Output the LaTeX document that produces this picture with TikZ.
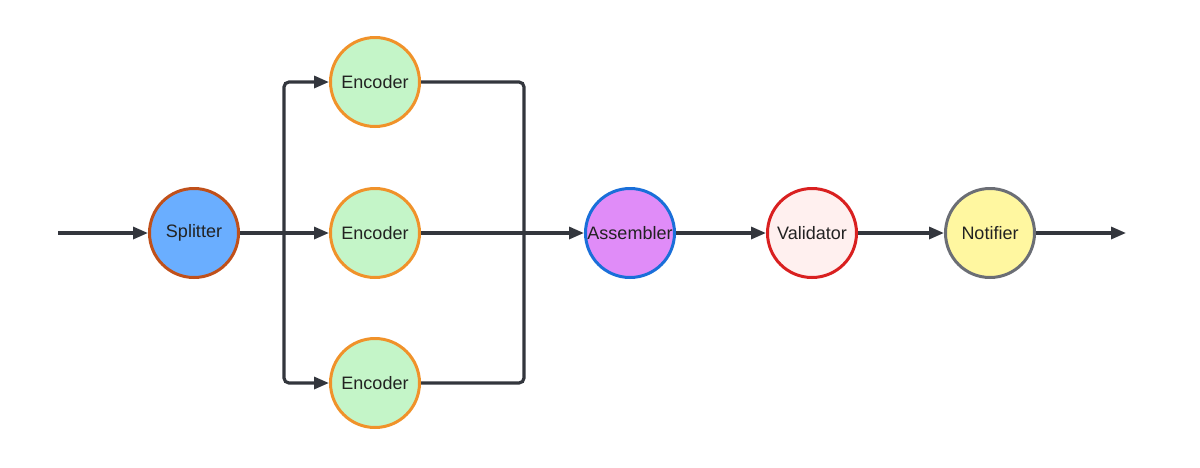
\documentclass[tikz,border=0pt]{standalone}
\usepackage{fontspec}
\setmainfont{Liberation Sans}
\usetikzlibrary{arrows.meta}
\definecolor{lineC}{HTML}{33363D}
\definecolor{txtC}{HTML}{222222}
\definecolor{spFill}{HTML}{6AAEFF}
\definecolor{spDraw}{HTML}{C0501A}
\definecolor{enFill}{HTML}{C4F5C8}
\definecolor{enDraw}{HTML}{F0922A}
\definecolor{asFill}{HTML}{E08CF8}
\definecolor{asDraw}{HTML}{1A6FD9}
\definecolor{vaFill}{HTML}{FFF0EF}
\definecolor{vaDraw}{HTML}{D92020}
\definecolor{noFill}{HTML}{FFF7A0}
\definecolor{noDraw}{HTML}{6B6E75}
\tikzset{
  proc/.style={circle, minimum size=89pt, inner sep=0pt, line width=3pt, text=txtC, font=\fontsize{18}{20}\selectfont},
  conn/.style={draw=lineC, line width=3.2pt, rounded corners=5pt, -{Triangle[length=15pt,width=12pt]}},
  plain/.style={draw=lineC, line width=3.2pt, rounded corners=5pt}
}
\begin{document}
\begin{tikzpicture}[x=1pt,y=-1pt]
\useasboundingbox (0,0) rectangle (1200,467);
\node[proc, fill=spFill, draw=spDraw] (sp) at (194,233) {Splitter};
\node[proc, fill=enFill, draw=enDraw] (e1) at (375,82) {Encoder};
\node[proc, fill=enFill, draw=enDraw] (e2) at (375,233) {Encoder};
\node[proc, fill=enFill, draw=enDraw] (e3) at (375,383) {Encoder};
\node[proc, fill=asFill, draw=asDraw] (as) at (630,233) {Assembler};
\node[proc, fill=vaFill, draw=vaDraw] (va) at (812,233) {Validator};
\node[proc, fill=noFill, draw=noDraw] (no) at (990,233) {Notifier};
\coordinate (in) at (58,233);
\coordinate (out) at (1126,233);
\coordinate (br) at (284,233);
\coordinate (mg) at (524,233);
\draw[conn] (in) -- (sp.west);
\draw[conn] (sp.east) -- (e2.west);
\draw[conn] (br) |- (e1.west);
\draw[conn] (br) |- (e3.west);
\draw[plain] (e1.east) -| (mg);
\draw[plain] (e3.east) -| (mg);
\draw[conn] (e2.east) -- (as.west);
\draw[conn] (as.east) -- (va.west);
\draw[conn] (va.east) -- (no.west);
\draw[conn] (no.east) -- (out);
\end{tikzpicture}
\end{document}
